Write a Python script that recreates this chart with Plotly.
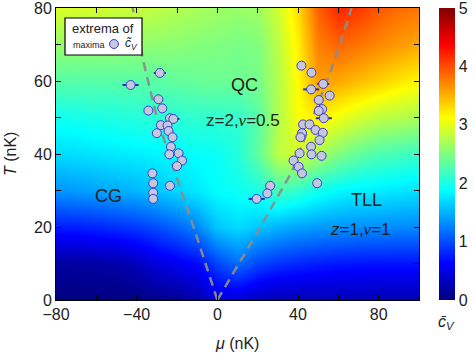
import plotly.graph_objects as go

# ---------------- data ----------------
mu_grid = [-80, -70, -60, -50, -40, -30, -20, -10, 0, 10, 20, 30, 40, 50, 60, 70, 80, 90, 100]
T_grid = [0, 10, 20, 30, 40, 50, 60, 70, 80]
cv_T0 = [0.0, 0.0, 0.0, 0.0, 0.0, 0.05, 0.1, 0.2, 0.45, 0.4, 0.3, 0.25, 0.25, 0.25, 0.25, 0.25, 0.25, 0.25, 0.25]
cv_T10 = [0.15, 0.15, 0.17, 0.2, 0.3, 0.45, 0.55, 0.65, 0.95, 1.15, 0.95, 0.85, 0.8, 0.75, 0.72, 0.7, 0.7, 0.7, 0.7]
cv_T20 = [0.75, 0.77, 0.8, 0.85, 0.9, 1.0, 1.12, 1.28, 1.6, 1.7, 1.6, 1.5, 1.42, 1.38, 1.35, 1.33, 1.32, 1.3, 1.3]
cv_T30 = [1.35, 1.38, 1.42, 1.47, 1.52, 1.6, 1.68, 1.77, 1.88, 1.93, 2.0, 2.2, 2.1, 1.95, 1.85, 1.8, 1.78, 1.75, 1.72]
cv_T40 = [1.7, 1.72, 1.75, 1.78, 1.8, 1.83, 1.87, 1.9, 1.92, 2.05, 2.35, 2.8, 2.9, 2.7, 2.5, 2.35, 2.25, 2.2, 2.15]
cv_T50 = [1.95, 1.97, 2.0, 2.02, 2.05, 2.07, 2.08, 2.1, 2.1, 2.12, 2.3, 2.75, 3.1, 3.2, 3.05, 2.9, 2.8, 2.75, 2.7]
cv_T60 = [2.3, 2.3, 2.3, 2.3, 2.3, 2.32, 2.35, 2.38, 2.4, 2.4, 2.45, 2.75, 3.15, 3.6, 3.55, 3.45, 3.35, 3.25, 3.15]
cv_T70 = [2.6, 2.6, 2.6, 2.59, 2.58, 2.57, 2.55, 2.52, 2.5, 2.47, 2.5, 2.8, 3.2, 3.75, 3.88, 3.8, 3.7, 3.62, 3.55]
cv_T80 = [2.95, 2.93, 2.9, 2.87, 2.85, 2.8, 2.75, 2.7, 2.65, 2.62, 2.65, 2.9, 3.3, 3.9, 4.2, 4.1, 3.95, 3.85, 3.8]

left_mu = [-43.0, -28.5, -29.2, -34.2, -27.3, -23.5, -21.8, -28.0, -24.7, -30.0, -24.2, -22.2, -23.0,
           -23.8, -19.2, -17.5, -20.0, -32.2, -31.8, -31.8, -31.8, -23.5]
left_T = [58.9, 62.2, 55.0, 51.9, 52.5, 49.8, 49.6, 47.9, 47.8, 45.7, 46.3, 44.6, 42.0,
          39.9, 40.2, 38.2, 36.7, 34.7, 32.0, 29.4, 27.7, 31.3]
left_err = [4, 3, 1.5, 1.5, 1.5, 1.5, 3, 1.5, 1.5, 1.5, 1.5, 1.5, 1.5,
            1.5, 1.5, 1.5, 1.5, 1.5, 1.5, 2, 2, 1.5]

right_mu = [41.7, 46.7, 46.5, 52.5, 55.7, 50.3, 52.0, 50.3, 52.8, 42.5, 45.7, 48.7, 52.3, 42.0,
            41.2, 50.7, 46.5, 40.8, 46.7, 51.7, 37.8, 40.3, 42.0, 49.5, 26.2, 24.8, 19.5]
right_T = [64.2, 62.3, 57.7, 59.2, 56.0, 54.8, 52.3, 51.8, 49.8, 48.1, 48.1, 46.6, 45.8, 45.7,
           44.6, 43.8, 42.0, 40.2, 39.9, 39.5, 38.2, 36.5, 34.7, 32.0, 31.3, 29.2, 27.7]
right_err = [1.5, 1.5, 4, 3, 1.5, 1.5, 1.5, 1.5, 4, 1.5, 1.5, 1.5, 1.5, 1.5,
             1.5, 1.5, 1.5, 1.5, 1.5, 1.5, 1.5, 1.5, 1.5, 1.5, 1.5, 1.5, 4]

left_line_mu = [0, -10, -22.5, -30, -36.3, -42]
left_line_T = [0, 17, 37.4, 50, 64.5, 80]
right_line_mu = [0, 20, 37, 56.2, 64.5, 66.5]
right_line_T = [0, 18.7, 35.2, 62.7, 76.3, 80]

x_ticks = [-80, -40, 0, 40, 80]
y_ticks = [0, 20, 40, 60, 80]
cb_ticks = [0, 1, 2, 3, 4, 5]

# ---------------- figure ----------------
jet = [[0.0, "rgb(0,0,128)"], [0.125, "rgb(0,0,255)"], [0.375, "rgb(0,255,255)"],
       [0.625, "rgb(255,255,0)"], [0.875, "rgb(255,0,0)"], [1.0, "rgb(128,0,0)"]]

FONT = "Liberation Sans, Arial, sans-serif"
TXT = "#222222"

z = [cv_T0, cv_T10, cv_T20, cv_T30, cv_T40, cv_T50, cv_T60, cv_T70, cv_T80]

fig = go.Figure()
fig.add_trace(go.Heatmap(
    x=mu_grid, y=T_grid, z=z, zmin=0, zmax=5, colorscale=jet, zsmooth="best",
    showscale=True, showlegend=False,
    colorbar=dict(x=1.055, xanchor="left", y=0, yanchor="bottom", len=1, lenmode="fraction",
                  thickness=16, thicknessmode="pixels", outlinewidth=0,
                  tickvals=cb_ticks, ticks="", ticklabelposition="outside",
                  ticklabeloverflow="allow",
                  tickfont=dict(family=FONT, size=16, color=TXT), xpad=0, ypad=0),
))

dash_style = dict(color="rgba(140,140,140,0.95)", width=2.5, dash="9px,6px")
fig.add_trace(go.Scatter(x=left_line_mu, y=left_line_T, mode="lines", line=dash_style,
                         showlegend=False, hoverinfo="skip"))
fig.add_trace(go.Scatter(x=right_line_mu, y=right_line_T, mode="lines", line=dash_style,
                         showlegend=False, hoverinfo="skip"))

marker_style = dict(size=9, color="#c6c6dc", line=dict(color="#3b3bd6", width=1))
err_style = dict(type="data", thickness=2, width=0, color="#2a2ab8")
fig.add_trace(go.Scatter(x=left_mu, y=left_T, mode="markers", marker=marker_style,
                         error_x=dict(array=left_err, **err_style), name="&nbsp;",
                         showlegend=True))
fig.add_trace(go.Scatter(x=right_mu, y=right_T, mode="markers", marker=marker_style,
                         error_x=dict(array=right_err, **err_style), showlegend=False))

axis_common = dict(showline=True, linecolor="black", linewidth=1, mirror="allticks",
                   ticks="inside", ticklen=5, tickcolor="black", showgrid=False, zeroline=False,
                   tickfont=dict(family=FONT, size=16, color=TXT), automargin=False,
                   ticklabeloverflow="allow")
fig.update_xaxes(range=[-80, 100], tickvals=x_ticks,
                 minor=dict(dtick=20, tick0=0, ticks="inside", ticklen=5, tickcolor="black"),
                 **axis_common)
fig.update_yaxes(range=[0, 80], tickvals=y_ticks,
                 minor=dict(dtick=10, tick0=0, ticks="inside", ticklen=5, tickcolor="black"),
                 **axis_common)

def px_x(p):
    return (p - 56) / 363.0

def px_y(p):
    return (300 - p) / 292.0

annotations = [
    dict(x=13.3, y=59, xref="x", yref="y", text="QC", font=dict(size=18)),
    dict(x=12.5, y=49.1, xref="x", yref="y",
         text="z=2,<span style=\"font-family:'Liberation Serif'\"><i>ν</i></span>=0.5",
         font=dict(size=17)),
    dict(x=-54.2, y=28.4, xref="x", yref="y", text="CG", font=dict(size=18)),
    dict(x=74.2, y=27.5, xref="x", yref="y", text="TLL", font=dict(size=18)),
    dict(x=70.8, y=19.3, xref="x", yref="y",
         text="<i>z</i>=1,<span style=\"font-family:'Liberation Serif'\"><i>ν</i></span>=1",
         font=dict(size=17)),
    # axis titles
    dict(x=px_x(237), y=px_y(343), xref="paper", yref="paper",
         text="<i>μ</i> (nK)", font=dict(size=16)),
    dict(x=px_x(10), y=px_y(154), xref="paper", yref="paper", textangle=-90,
         text="<i>T</i> (nK)", font=dict(size=16)),
    # colorbar title
    dict(x=px_x(447), y=px_y(322), xref="paper", yref="paper",
         text="<i>c̄</i><sub><i>V</i></sub>", font=dict(size=16)),
    # legend texts
    dict(x=px_x(103), y=px_y(28), xref="paper", yref="paper",
         text="extrema of", font=dict(size=13)),
    dict(x=px_x(89), y=px_y(45), xref="paper", yref="paper",
         text="maxima", font=dict(size=9)),
    dict(x=px_x(131), y=px_y(44), xref="paper", yref="paper",
         text="<i>c̃</i><sub><i>V</i></sub>", font=dict(size=12)),
]
for a in annotations:
    a.setdefault("showarrow", False)
    a["xanchor"] = "center"
    a["yanchor"] = "middle"
    a["font"] = dict(family=FONT, color=TXT, size=a["font"]["size"])

fig.update_layout(
    width=474, height=355,
    margin=dict(l=56, r=55, t=8, b=55, autoexpand=False),
    paper_bgcolor="white", plot_bgcolor="white",
    font=dict(family=FONT, color=TXT),
    annotations=annotations,
    shapes=[dict(type="rect", xref="paper", yref="paper",
                 x0=px_x(65), x1=px_x(142), y0=px_y(55), y1=px_y(18),
                 line=dict(color="black", width=1.2), fillcolor="white", layer="above")],
    legend=dict(x=px_x(94), y=px_y(44), xanchor="left", yanchor="middle",
                bgcolor="rgba(0,0,0,0)", borderwidth=0, itemwidth=30,
                font=dict(size=10), tracegroupgap=0),
)

fig.write_html("out.html", config={"displayModeBar": False},
               post_script="document.body.style.margin='0';")
